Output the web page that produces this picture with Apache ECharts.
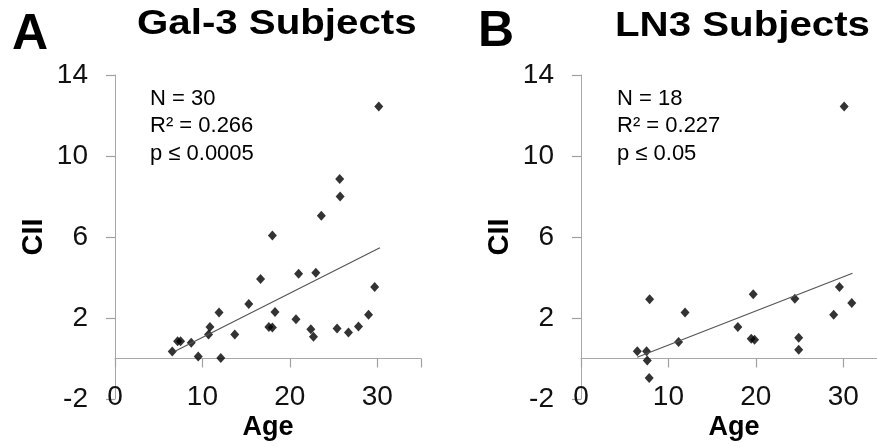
<!DOCTYPE html>
<html>
<head>
<meta charset="utf-8">
<script src="https://cdn.jsdelivr.net/npm/echarts@6/dist/echarts.min.js"></script>
<style>
  html, body { margin: 0; padding: 0; background: #fff; }
  #chart { width: 877px; height: 447px; }
</style>
</head>
<body>
<div id="chart"></div>
<script>
// ---- Data ----
const panelLetters = ['A', 'B'];
const panelTitles = ['Gal-3 Subjects', 'LN3 Subjects'];
const statsA = ['N = 30', 'R\u00b2 = 0.266', 'p \u2264 0.0005'];
const statsB = ['N = 18', 'R\u00b2 = 0.227', 'p \u2264 0.05'];
const xTicks = [0, 10, 20, 30];
const yTicks = [-2, 2, 6, 10, 14];
const xName = 'Age';
const yName = 'CII';

// Gal-3 subjects: [age, CII]
const gal3Points = [
  [6.55, 0.35], [7.16, 0.85], [7.5, 0.85], [8.72, 0.78], [9.52, 0.1],
  [10.7, 1.19], [10.86, 1.56], [11.9, 2.27], [12.1, 0.02], [13.7, 1.18],
  [15.3, 2.69], [16.65, 3.93], [17.6, 1.56], [18.0, 1.53], [18.0, 6.07],
  [18.3, 2.3], [20.7, 1.94], [21.0, 4.18], [22.4, 1.44], [22.7, 1.08],
  [22.97, 4.23], [23.6, 7.05], [25.4, 1.48], [25.75, 8.0], [25.7, 8.86],
  [26.7, 1.28], [27.85, 1.58], [29.0, 2.16], [29.7, 3.53], [30.17, 12.45]
];
const gal3Trend = [[6.86, 0.36], [30.3, 5.47]];

// LN3 subjects: [age, CII]
const ln3Points = [
  [6.44, 0.36], [7.5, 0.36], [7.58, -0.1], [7.8, -0.96], [7.85, 2.92],
  [11.16, 0.81], [11.9, 2.27], [17.94, 1.56], [19.47, 0.98], [19.85, 0.93],
  [19.7, 3.17], [24.46, 2.95], [24.9, 1.03], [24.9, 0.43], [28.9, 2.16],
  [29.56, 3.53], [30.97, 2.74], [30.1, 12.45]
];
const ln3Trend = [[6.43, 0.06], [31.05, 4.21]];

// ---- Styling ----
const FONT = "'Liberation Sans', Arial, Helvetica, sans-serif";
const AXIS_GRAY = '#a8a8a8';
const TICK_GRAY = '#a0a0a0';
const TEXT = '#111';
const GRIDS = [
  { left: 115, top: 75, width: 306, height: 324, containLabel: false, outerBoundsMode: 'none' },
  { left: 581, top: 75, width: 306, height: 324, containLabel: false, outerBoundsMode: 'none' }
];

// Axis carrying the tick labels and the axis name (at the bottom of the plot)
function makeXLabels(gi) {
  return {
    gridIndex: gi, type: 'value', min: 0, max: 35, interval: 10, position: 'bottom',
    axisLine: { show: false, onZero: false },
    axisTick: { show: false },
    axisLabel: { customValues: xTicks, margin: -16, fontSize: 28, color: TEXT, fontFamily: FONT },
    splitLine: { show: false },
    name: xName, nameLocation: 'middle', nameGap: 15, nameMoveOverlap: false,
    nameTextStyle: { fontSize: 27, fontWeight: 'bold', color: '#000', fontFamily: FONT }
  };
}
// Axis carrying the line and ticks, sitting on CII = 0
function makeXLine(gi, offset) {
  return {
    gridIndex: gi, type: 'value', min: 0, max: 35, interval: 10, position: 'bottom', offset: offset,
    axisLine: { show: true, onZero: false, lineStyle: { color: AXIS_GRAY, width: 1 } },
    axisTick: { show: true, length: 9, inside: false, lineStyle: { color: TICK_GRAY, width: 1.2 } },
    axisLabel: { show: false },
    splitLine: { show: false }
  };
}
function makeY(gi) {
  return {
    gridIndex: gi, type: 'value', min: -2, max: 14, interval: 4,
    axisLine: { show: true, onZero: false, lineStyle: { color: AXIS_GRAY, width: 1 } },
    axisTick: { show: true, length: 9, inside: false, lineStyle: { color: TICK_GRAY, width: 1.2 } },
    axisLabel: { customValues: yTicks, margin: 27, fontSize: 28, color: TEXT, fontFamily: FONT },
    splitLine: { show: false },
    name: yName, nameLocation: 'middle', nameGap: 67, nameRotate: 90,
    nameTextStyle: { fontSize: 29, fontWeight: 'bold', color: '#000', fontFamily: FONT }
  };
}
function scatter(idx, data) {
  return {
    type: 'scatter', xAxisIndex: idx, yAxisIndex: idx, data: data,
    symbol: 'diamond', symbolSize: [9, 10],
    itemStyle: { color: '#000' }, silent: true
  };
}
function trend(idx, data) {
  return {
    type: 'line', xAxisIndex: idx, yAxisIndex: idx, data: data,
    showSymbol: false, symbol: 'none',
    lineStyle: { color: '#555', width: 1.2 }, silent: true
  };
}
function txt(x, yMid, s, size, bold, scaleX) {
  return {
    type: 'text', x: x, y: yMid, scaleX: scaleX || 1,
    style: {
      text: s, fontSize: size, fontWeight: bold ? 'bold' : 'normal',
      fontFamily: FONT, fill: '#000', align: 'left', verticalAlign: 'middle'
    }
  };
}

const graphics = [
  txt(12, 53 - 18, panelLetters[0], 50, true),
  txt(137, 36.7 - 12.6, panelTitles[0], 35, true, 1.15),
  txt(478, 50 - 18, panelLetters[1], 50, true),
  txt(615, 39 - 12.6, panelTitles[1], 35, true, 1.15)
];
const baselines = [106.7, 133.5, 161.5];
statsA.forEach((s, i) => graphics.push(txt(150, baselines[i] - 7.9, s, 22, false)));
statsB.forEach((s, i) => graphics.push(txt(617, baselines[i] - 7.9, s, 22, false)));

const chart = echarts.init(document.getElementById('chart'), null, { renderer: 'canvas' });
function build(offsets) {
  return {
    animation: false,
    backgroundColor: '#fff',
    grid: GRIDS,
    xAxis: [makeXLabels(0), makeXLabels(1), makeXLine(0, offsets[0]), makeXLine(1, offsets[1])],
    yAxis: [makeY(0), makeY(1)],
    series: [
      trend(0, gal3Trend), scatter(0, gal3Points),
      trend(1, ln3Trend), scatter(1, ln3Points)
    ],
    graphic: graphics
  };
}
chart.setOption(build([0, 0]));
// place the line axes on CII = 0 using the y scale
const offsets = GRIDS.map((g, i) => {
  const y0 = chart.convertToPixel({ xAxisIndex: i, yAxisIndex: i }, [0, 0])[1];
  return y0 - (g.top + g.height);
});
chart.setOption(build(offsets));
</script>
</body>
</html>
